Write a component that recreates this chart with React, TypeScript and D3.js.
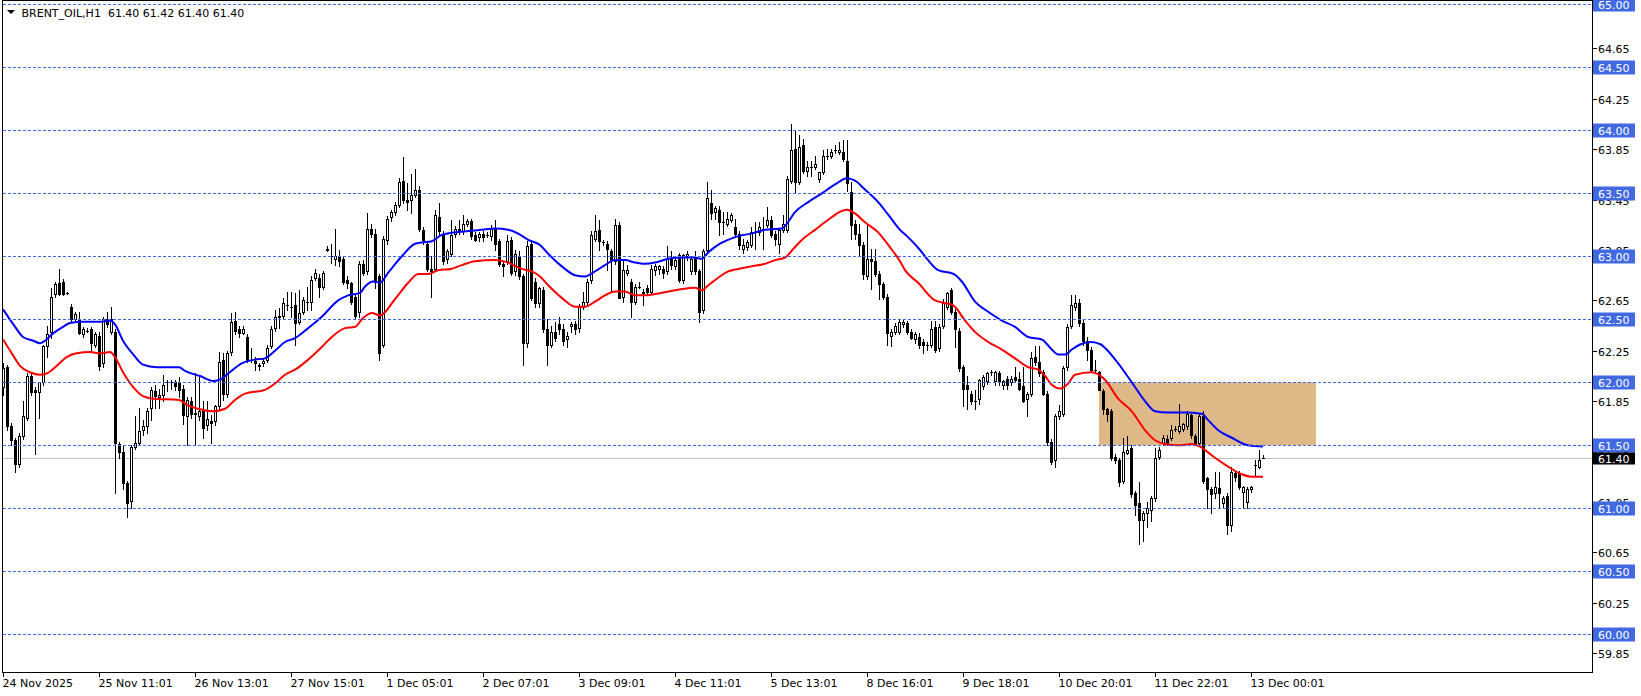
import React from "react";
import * as d3 from "d3";

const W = 1641;
const H = 696;

// [open, high, low, close] per hourly bar
const candles: [number, number, number, number][] = [
  [61.96,62.15,61.90,62.11],[62.12,62.14,61.62,61.65],[61.65,61.68,61.50,61.54],[61.54,61.56,61.29,61.35],
  [61.35,61.60,61.33,61.57],[61.57,61.85,61.55,61.73],[61.72,62.07,61.70,62.05],[62.05,62.07,61.90,61.92],
  [61.94,61.96,61.43,61.92],[61.92,61.95,61.72,62.00],[62.00,62.30,61.98,62.29],[62.29,62.45,62.20,62.38],
  [62.40,62.75,62.35,62.68],[62.70,62.80,62.68,62.78],[62.79,62.90,62.69,62.70],[62.80,62.82,62.69,62.70],
  [62.71,62.72,62.70,62.71],[62.60,62.62,62.48,62.50],[62.50,62.56,62.48,62.54],[62.50,62.56,62.38,62.39],
  [62.38,62.44,62.36,62.42],[62.41,62.43,62.40,62.41],[62.42,62.44,62.25,62.31],[62.30,62.40,62.28,62.38],
  [62.37,62.40,62.10,62.13],[62.15,62.52,62.12,62.50],[62.50,62.56,62.44,62.46],[62.40,62.60,62.38,62.50],
  [62.40,62.42,61.12,61.52],[61.51,61.53,61.40,61.45],[61.45,61.50,61.15,61.20],[61.20,61.22,60.93,61.04],
  [61.06,61.50,61.00,61.49],[61.49,61.73,61.47,61.52],[61.52,61.80,61.50,61.61],[61.62,61.70,61.58,61.65],
  [61.65,61.80,61.60,61.77],[61.80,61.96,61.70,61.94],[61.93,61.98,61.80,61.89],[61.88,61.95,61.80,61.90],
  [61.90,62.06,61.85,61.98],[62.00,62.02,61.93,62.00],[62.00,62.02,61.95,62.00],[62.00,62.02,61.94,61.97],
  [62.00,62.04,61.88,61.94],
  [61.95,61.98,61.67,61.74],[61.73,61.88,61.50,61.86],[61.85,61.88,61.72,61.75],[61.75,62.07,61.50,61.76],
  [61.73,62.05,61.70,61.77],[61.78,61.85,61.56,61.64],[61.66,61.85,61.62,61.71],[61.69,61.74,61.52,61.68],
  [61.69,61.82,61.66,61.81],[61.81,62.24,61.79,62.16],[62.18,62.23,61.86,61.91],[61.91,62.25,61.88,62.23],
  [62.24,62.55,62.22,62.48],[62.49,62.56,62.38,62.41],[62.42,62.45,62.36,62.39],[62.39,62.45,62.38,62.42],
  [62.36,62.38,62.16,62.18],[62.18,62.27,62.16,62.18],[62.17,62.20,62.10,62.15],[62.14,62.15,62.10,62.13],
  [62.15,62.19,62.13,62.17],[62.18,62.30,62.16,62.27],[62.29,62.45,62.27,62.42],[62.43,62.57,62.41,62.52],
  [62.52,62.59,62.43,62.53],[62.53,62.67,62.50,62.63],[62.61,62.72,62.57,62.61],[62.60,62.72,62.52,62.60],
  [62.61,62.71,62.30,62.47],[62.48,62.73,62.46,62.55],[62.56,62.68,62.54,62.65],[62.64,62.76,62.57,62.64],
  [62.64,62.84,62.57,62.81],[62.83,62.90,62.81,62.87],[62.83,62.86,62.68,62.76],[62.76,62.88,62.74,62.87],
  [63.05,63.08,63.04,63.06],[63.00,63.10,62.95,63.00],[62.98,63.22,62.93,63.00],[63.00,63.05,62.92,62.96],
  [62.98,63.00,62.78,62.80],[62.81,62.84,62.75,62.79],[62.79,62.80,62.62,62.64],[62.68,62.70,62.50,62.53],
  [62.56,62.96,62.52,62.94],[62.94,62.97,62.85,62.87],[62.88,63.34,62.86,63.22],[63.22,63.26,63.15,63.18],
  [63.18,63.22,62.75,62.80],[62.84,62.86,62.18,62.23],[62.30,63.16,62.28,63.14],[63.13,63.32,63.10,63.30],
  [63.31,63.37,63.28,63.35],[63.35,63.43,63.33,63.41],[63.41,63.62,63.39,63.59],[63.60,63.79,63.42,63.45],
  [63.45,63.58,63.37,63.43],[63.45,63.65,63.34,63.49],[63.49,63.69,63.47,63.53],[63.53,63.56,63.20,63.22],
  [63.21,63.23,63.10,63.13],[63.10,63.12,62.88,62.90],[62.90,63.00,62.68,62.88],[62.90,63.37,62.88,63.33],
  [63.31,63.42,63.18,63.20],[63.18,63.20,62.94,62.96],[62.98,63.06,62.95,63.04],[63.02,63.29,63.00,63.17],
  [63.18,63.24,63.15,63.22],[63.22,63.29,63.18,63.20],[63.20,63.33,63.18,63.26],[63.26,63.30,63.24,63.28],
  [63.28,63.30,63.14,63.16],[63.17,63.19,63.12,63.13],[63.15,63.19,63.12,63.18],[63.18,63.20,63.12,63.15],
  [63.17,63.19,63.15,63.17],[63.16,63.25,63.13,63.22],[63.22,63.29,63.05,63.10],[63.12,63.14,62.92,62.94],
  [62.94,62.96,62.84,62.92],[62.96,63.17,62.94,63.12],[63.13,63.15,62.85,62.87],[62.88,63.05,62.85,63.02],
  [63.00,63.04,62.82,62.84],[62.84,62.86,62.14,62.31],[62.31,63.12,62.28,63.08],[63.10,63.12,62.65,62.67],
  [62.80,62.83,62.60,62.63],
  [62.63,62.76,62.60,62.75],[62.73,62.76,62.40,62.42],[62.42,62.50,62.14,62.30],[62.30,62.45,62.28,62.40],
  [62.40,62.48,62.33,62.35],[62.46,62.52,62.38,62.42],[62.42,62.46,62.30,62.33],[62.34,62.40,62.28,62.37],
  [62.45,62.48,62.40,62.46],[62.46,62.49,62.38,62.42],[62.43,62.62,62.40,62.60],[62.60,62.72,62.58,62.64],
  [62.64,62.82,62.62,62.80],[62.81,63.20,62.79,63.17],[63.14,63.33,63.12,63.20],[63.21,63.29,63.05,63.12],
  [63.11,63.13,63.09,63.11],[63.10,63.12,62.89,63.06],[63.04,63.06,62.72,62.97],[62.96,63.30,62.94,63.25],
  [63.25,63.27,62.67,62.67],[62.68,62.97,62.64,62.89],[62.87,62.93,62.85,62.89],[62.80,62.82,62.52,62.64],
  [62.64,62.78,62.62,62.76],[62.76,62.80,62.75,62.76],[62.71,62.74,62.61,62.72],[62.75,62.77,62.70,62.72],
  [62.72,62.93,62.70,62.90],[62.89,62.94,62.85,62.92],[62.90,62.93,62.86,62.92],[62.90,62.92,62.83,62.87],
  [62.88,63.08,62.86,62.99],[62.99,63.04,62.90,62.93],[62.92,62.99,62.90,62.97],[63.01,63.03,62.80,62.81],
  [62.81,63.02,62.79,63.01],[63.00,63.04,62.97,63.02],[62.88,63.00,62.86,62.98],[62.99,63.04,62.86,62.88],
  [62.88,62.90,62.48,62.56],[62.57,63.06,62.55,63.04],[63.05,63.59,63.03,63.46],[63.42,63.53,63.30,63.34],
  [63.35,63.40,63.30,63.38],
  [63.37,63.40,63.17,63.27],[63.27,63.35,63.18,63.27],[63.26,63.35,63.24,63.30],[63.29,63.34,63.27,63.33],
  [63.23,63.30,63.16,63.18],[63.18,63.20,63.06,63.09],[63.06,63.14,63.03,63.09],[63.07,63.13,63.05,63.11],
  [63.09,63.23,63.07,63.19],[63.19,63.27,63.06,63.19],[63.19,63.27,63.17,63.23],[63.22,63.31,63.06,63.22],
  [63.25,63.39,63.23,63.29],[63.29,63.32,63.15,63.17],[63.18,63.20,63.09,63.14],[63.10,63.22,63.03,63.21],
  [63.21,63.33,63.19,63.26],[63.21,63.64,63.19,63.61],[63.60,64.05,63.58,63.84],[63.85,64.00,63.51,63.59],
  [63.59,63.96,63.57,63.87],[63.88,63.93,63.66,63.68],[63.68,63.76,63.64,63.71],[63.71,63.76,63.64,63.71],
  [63.71,63.80,63.69,63.73],[63.61,63.67,63.59,63.67],[63.67,63.84,63.65,63.80],[63.80,63.85,63.77,63.80],
  [63.80,63.85,63.78,63.83],[63.84,63.88,63.82,63.84],[63.83,63.91,63.81,63.84],[63.83,63.92,63.76,63.77],
  [63.76,63.92,63.52,63.58],[63.51,63.59,63.14,63.25],[63.26,63.29,63.14,63.18],[63.18,63.26,63.01,63.09],
  [63.09,63.11,62.82,62.86],[62.84,63.25,62.82,62.98],[62.98,63.06,62.74,62.96],[62.96,63.06,62.84,62.86],
  [62.86,62.88,62.66,62.78],[62.78,62.80,62.66,62.68],[62.68,62.70,62.30,62.39],[62.37,62.42,62.29,62.40],
  [62.40,62.47,62.38,62.45],[62.40,62.50,62.38,62.48],
  [62.46,62.50,62.44,62.48],[62.47,62.49,62.38,62.40],[62.40,62.42,62.34,62.35],[62.34,62.40,62.31,62.38],
  [62.36,62.39,62.27,62.30],[62.32,62.34,62.23,62.30],[62.30,62.32,62.26,62.30],[62.30,62.49,62.28,62.42],
  [62.44,62.49,62.24,62.26],[62.27,62.46,62.25,62.44],[62.45,62.66,62.43,62.63],[62.60,62.72,62.58,62.71],
  [62.73,62.75,62.54,62.56],[62.56,62.58,62.28,62.42],[62.41,62.43,62.09,62.11],[62.12,62.14,61.81,61.95],
  [61.98,62.05,61.79,61.95],[61.91,61.93,61.83,61.85],[61.85,61.94,61.79,61.85],[61.87,62.03,61.83,62.02],
  [61.97,62.06,61.95,62.04],[62.01,62.08,61.99,62.07],[62.08,62.10,62.06,62.08],[62.01,62.09,61.98,62.08],
  [62.07,62.09,61.98,62.00],[61.98,62.02,61.95,62.01],[62.03,62.05,61.95,61.98],[62.00,62.05,61.98,62.03],
  [62.04,62.12,62.01,62.02],[62.03,62.08,61.94,61.95],[61.97,62.12,61.84,61.85],[61.87,61.92,61.73,61.91],
  [61.91,62.24,61.89,62.19],[62.20,62.29,62.14,62.16],[62.16,62.29,62.05,62.07],[62.08,62.10,61.90,61.91],
  [61.91,61.93,61.50,61.53],[61.53,61.55,61.35,61.37],[61.38,61.75,61.33,61.73],[61.73,61.82,61.71,61.77],
  [61.75,62.13,61.73,62.11],[62.12,62.46,62.10,62.44],[62.45,62.69,62.43,62.61],[62.60,62.69,62.57,62.63],
  [62.63,62.66,62.45,62.47],[62.47,62.50,62.30,62.33],[62.33,62.36,62.18,62.26],[62.26,62.28,62.08,62.10],
  [62.10,62.18,62.07,62.10],[62.08,62.09,61.94,61.94],[61.93,61.95,61.75,61.79],[61.79,61.80,61.69,61.75],
  [61.77,61.79,61.38,61.40],[61.41,61.43,61.36,61.38],[61.38,61.40,61.18,61.21],[61.22,61.56,61.20,61.45],
  [61.44,61.57,61.43,61.46],[61.48,61.50,61.09,61.11],[61.12,61.14,60.95,61.03],[61.04,61.21,60.72,60.91],
  [60.91,60.98,60.74,60.96],[60.96,61.05,60.85,61.00],[60.99,61.10,60.90,61.08],[61.08,61.48,61.06,61.40],
  [61.41,61.49,61.39,61.46],[61.52,61.58,61.50,61.56],[61.55,61.58,61.50,61.52],[61.56,61.66,61.54,61.62],
  [61.63,61.65,61.61,61.63],[61.61,61.83,61.60,61.65],[61.63,61.68,61.61,61.67],[61.65,61.77,61.63,61.75],
  [61.74,61.75,61.56,61.58],[61.57,61.59,61.50,61.52],[61.52,61.75,61.50,61.73],[61.73,61.77,61.20,61.22],
  [61.24,61.25,61.00,61.15],[61.15,61.17,60.96,61.11],[61.12,61.29,61.08,61.17],[61.16,61.29,61.01,61.12],
  [61.04,61.10,61.00,61.08],[61.10,61.12,60.80,60.87],[60.87,61.33,60.82,61.29],[61.28,61.30,61.22,61.25],
  [61.28,61.30,61.15,61.17],[61.13,61.18,61.00,61.17],[61.05,61.17,61.00,61.15],[61.15,61.18,61.13,61.17],
  [61.34,61.38,61.26,61.34],[61.33,61.46,61.32,61.38],[61.40,61.42,61.40,61.40],
];

// moving average on highs (blue), sampled [bar, value]
const blueMA: [number, number][] = [
  [0,62.58],[2.6,62.46],[5,62.36],[7.6,62.33],[9.25,62.31],[10.5,62.33],[12.6,62.39],[15,62.44],[16.75,62.47],
  [20,62.48],[24.25,62.48],[26.75,62.49],[28,62.46],[30,62.33],[32.6,62.22],[35,62.14],[38.4,62.12],[44,62.12],
  [45.5,62.09],[49.25,62.05],[52.6,62.01],[54.7,62.03],[56.3,62.07],[59.7,62.15],[63,62.18],[65.5,62.19],
  [68,62.25],[70.5,62.32],[73,62.35],[76.3,62.43],[79.7,62.52],[83.8,62.65],[86.3,62.69],[89.25,62.71],
  [90.5,62.76],[92.6,62.80],[94.25,62.79],[96.3,62.87],[99.7,63.0],[103,63.10],[104.7,63.11],[107.2,63.12],
  [109.7,63.17],[113,63.19],[116.3,63.20],[119.7,63.21],[123,63.22],[126.3,63.21],[128.8,63.18],[131.3,63.13],
  [134.25,63.09],[136.3,63.02],[139.7,62.92],[143,62.85],[145.5,62.84],[148,62.88],[150.5,62.93],[153,62.97],
  [155.5,62.97],[158,62.95],[160.5,62.94],[163,62.95],[166.3,62.98],[169.7,62.99],[173,62.99],[174.7,62.98],
  [176.3,63.03],[179.25,63.10],[180.5,63.12],[183.8,63.16],[187,63.18],[190.5,63.21],[194.7,63.22],[196,63.26],
  [198,63.35],[201.3,63.43],[204.7,63.50],[208,63.57],[211,63.62],[213,63.60],[215.5,63.53],[218.8,63.43],
  [221.3,63.33],[224.25,63.21],[226,63.16],[229,63.06],[231,62.98],[233.8,62.89],[237.6,62.86],[239.7,62.80],
  [243,62.64],[246.3,62.56],[249.7,62.49],[253,62.44],[256.3,62.36],[259.7,62.34],[262.2,62.26],[263.8,62.22],
  [265.5,62.22],[267.2,62.26],[269.25,62.30],[272,62.32],[274.5,62.30],[275.9,62.26],[278.8,62.15],[282.2,62.0],
  [285.5,61.85],[288,61.77],[291.3,61.76],[295.5,61.76],[299.7,61.75],[301.3,61.70],[303.8,61.62],[307.2,61.56],
  [311.3,61.50],[315,61.49],
];

// moving average on lows (red), sampled [bar, value]
const redMA: [number, number][] = [
  [0,62.34],[2.6,62.21],[4.25,62.13],[6.75,62.08],[9.25,62.06],[10.9,62.07],[13.4,62.13],[15.9,62.20],[18.4,62.23],
  [21.75,62.24],[24.25,62.23],[26.75,62.24],[28,62.20],[30,62.08],[32.6,61.96],[35,61.89],[37.6,61.87],[44,61.86],
  [46,61.82],[48.7,61.79],[52.6,61.77],[55.5,61.79],[58,61.86],[60.5,61.91],[65.5,61.94],[68,61.99],[70.5,62.06],
  [73,62.10],[76.3,62.18],[79.7,62.28],[82.2,62.36],[85.5,62.43],[88,62.44],[90,62.51],[92.2,62.55],[94.25,62.53],
  [98,62.66],[101.3,62.79],[103.8,62.86],[106.3,62.86],[108.8,62.89],[112,62.90],[114.7,62.93],[118,62.96],
  [123,62.97],[126.3,62.95],[129.7,62.90],[132.2,62.88],[134.25,62.84],[136.3,62.77],[139.7,62.67],[143,62.60],
  [145.5,62.60],[148,62.64],[150.5,62.69],[153,62.72],[155.5,62.72],[158,62.69],[160.5,62.69],[163,62.70],
  [166.3,62.72],[169.7,62.74],[173,62.75],[174.7,62.73],[176.3,62.77],[179.25,62.84],[181.3,62.88],[183.8,62.90],
  [187,62.92],[190.5,62.94],[193,62.97],[195.5,62.99],[197.6,63.06],[199.7,63.13],[203,63.21],[206.3,63.29],
  [209.7,63.36],[211,63.37],[213,63.34],[215.5,63.27],[218.8,63.19],[221.3,63.09],[224.25,62.96],[225.5,62.89],
  [228.8,62.79],[233,62.65],[235.5,62.63],[237.6,62.61],[240.5,62.49],[243,62.40],[246.3,62.32],[249.7,62.26],
  [253,62.19],[256.3,62.12],[258.8,62.10],[260.5,62.05],[262.2,61.98],[264.25,61.95],[266.3,61.99],[268,62.06],
  [272.2,62.08],[275.5,62.02],[278.8,61.87],[282.2,61.77],[285.5,61.62],[288,61.54],[290.5,61.51],[293.8,61.50],
  [297.2,61.51],[299.25,61.49],[302.2,61.42],[306.3,61.33],[309.7,61.27],[312.2,61.25],[315,61.25],
];

const levelLines = [60.0, 60.5, 61.0, 61.5, 62.0, 62.5, 63.0, 63.5, 64.0, 64.5, 65.0];
const priceTicks = [59.85, 60.25, 60.65, 61.05, 61.45, 61.85, 62.25, 62.65, 63.05, 63.45, 63.85, 64.25, 64.65];
const timeLabels = [
  "24 Nov 2025", "25 Nov 11:01", "26 Nov 13:01", "27 Nov 15:01", "1 Dec 05:01", "2 Dec 07:01", "3 Dec 09:01",
  "4 Dec 11:01", "5 Dec 13:01", "8 Dec 16:01", "9 Dec 18:01", "10 Dec 20:01", "11 Dec 22:01", "13 Dec 00:01",
];
const timeLabelBars = [0, 24, 48, 72, 96, 120, 144, 168, 192, 216, 240, 264, 288, 312];
const bidPrice = 61.40;
const zoneBars = [274, 328.25];
const zonePrices = [62.0, 61.5];
const headerSymbol = "BRENT_OIL,H1";
const headerOHLC = "61.40 61.42 61.40 61.40";

const FONT = "'DejaVu Sans', Verdana, sans-serif";
const LEVEL_BLUE = "#4169E1";

export default function App() {
  const plotLeft = 2.5;
  const plotRight = 1592.5;
  const plotBottom = 672.5;
  const x = d3.scaleLinear().domain([0, 315]).range([3, 1263]);
  const y = d3.scaleLinear().domain([60, 65]).range([634.3, 4.3]);
  const line = d3
    .line<[number, number]>()
    .x((d) => x(d[0]))
    .y((d) => y(d[1]))
    .curve(d3.curveMonotoneX);

  const candleEls = candles.map(([o, h, l, c], i) => {
    const cx = Math.round(x(i));
    const yh = Math.round(y(h));
    const yl = Math.round(y(l));
    const yt = Math.round(y(Math.max(o, c)));
    const yb = Math.round(y(Math.min(o, c)));
    const bull = c > o;
    const parts: React.ReactNode[] = [];
    parts.push(<rect key="w" x={cx} y={yh} width={1} height={Math.max(1, yl - yh + 1)} fill="#000" />);
    if (yb - yt < 1) {
      parts.push(<rect key="b" x={cx - 1} y={yt} width={3} height={1} fill="#000" />);
    } else if (bull) {
      parts.push(
        <rect key="b" x={cx - 0.5} y={yt + 0.5} width={2} height={yb - yt} fill="#fff" stroke="#000" strokeWidth={1} />
      );
    } else {
      parts.push(<rect key="b" x={cx - 1} y={yt} width={3} height={yb - yt + 1} fill="#000" />);
    }
    return <g key={i}>{parts}</g>;
  });

  return (
    <div style={{ position: "absolute", left: 0, top: 0, width: W, height: H, background: "#fff" }}>
      <svg width={W} height={H} viewBox={`0 0 ${W} ${H}`} style={{ display: "block" }} fontFamily={FONT}>
        <rect x={0} y={0} width={W} height={H} fill="#fff" />
        {/* zone rectangle */}
        <rect
          x={x(zoneBars[0])}
          y={y(zonePrices[0])}
          width={x(zoneBars[1]) - x(zoneBars[0])}
          height={y(zonePrices[1]) - y(zonePrices[0])}
          fill="#DEB887"
        />
        {/* bid line */}
        <line x1={plotLeft} x2={plotRight} y1={Math.round(y(bidPrice)) + 0.5} y2={Math.round(y(bidPrice)) + 0.5} stroke="#C0C0C0" strokeWidth={1} />
        {/* candles */}
        <g shapeRendering="crispEdges">{candleEls}</g>
        {/* moving averages */}
        <path d={line(blueMA) || ""} fill="none" stroke="#0000FF" strokeWidth={2} />
        <path d={line(redMA) || ""} fill="none" stroke="#FF0000" strokeWidth={2} />
        {/* dashed level lines */}
        <g shapeRendering="crispEdges">
          {levelLines.map((p) => (
            <line
              key={p}
              x1={plotLeft}
              x2={plotRight}
              y1={Math.round(y(p)) + 0.5}
              y2={Math.round(y(p)) + 0.5}
              stroke={LEVEL_BLUE}
              strokeWidth={1}
              strokeDasharray="3,2"
            />
          ))}
        </g>
        {/* frame */}
        <g shapeRendering="crispEdges" stroke="#000" strokeWidth={1}>
          <line x1={plotLeft} x2={plotLeft} y1={0} y2={plotBottom} />
          <line x1={plotRight} x2={plotRight} y1={0} y2={plotBottom} />
          <line x1={plotLeft} x2={plotRight} y1={plotBottom} y2={plotBottom} />
          <line x1={plotLeft} x2={plotRight} y1={0.5} y2={0.5} />
        </g>
        {/* price axis ticks */}
        <g fontSize={11} fill="#000">
          {priceTicks.map((p) => {
            const yy = Math.round(y(p)) + 0.5;
            return (
              <g key={p}>
                <line x1={plotRight} x2={plotRight + 4} y1={yy} y2={yy} stroke="#000" shapeRendering="crispEdges" />
                <text x={1598} y={yy + 4}>{p.toFixed(2)}</text>
              </g>
            );
          })}
        </g>
        {/* level labels */}
        <g fontSize={11}>
          {levelLines.map((p) => {
            const yy = Math.round(y(p)) + 0.5;
            return (
              <g key={p}>
                <rect x={1593} y={yy - 7} width={42} height={14} fill={LEVEL_BLUE} />
                <text x={1598} y={yy + 4} fill="#fff">{p.toFixed(2)}</text>
              </g>
            );
          })}
          <rect x={1593} y={Math.round(y(bidPrice)) + 0.5 - 6} width={42} height={12} fill="#000" />
          <text x={1598} y={Math.round(y(bidPrice)) + 0.5 + 4} fill="#fff">{bidPrice.toFixed(2)}</text>
        </g>
        {/* time axis */}
        <g fontSize={11} fill="#000">
          {timeLabels.map((t, k) => {
            const xx = Math.round(x(timeLabelBars[k])) + 0.5;
            return (
              <g key={t}>
                <line x1={xx} x2={xx} y1={plotBottom} y2={plotBottom + 4} stroke="#000" shapeRendering="crispEdges" />
                <text x={xx - 1} y={687}>{t}</text>
              </g>
            );
          })}
        </g>
        {/* header */}
        <path d="M7,10 L15,10 L11,14 Z" fill="#000" />
        <text x={21.5} y={17} fontSize={11} fill="#000" style={{ whiteSpace: "pre" }}>
          {headerSymbol + "  " + headerOHLC}
        </text>
      </svg>
    </div>
  );
}
